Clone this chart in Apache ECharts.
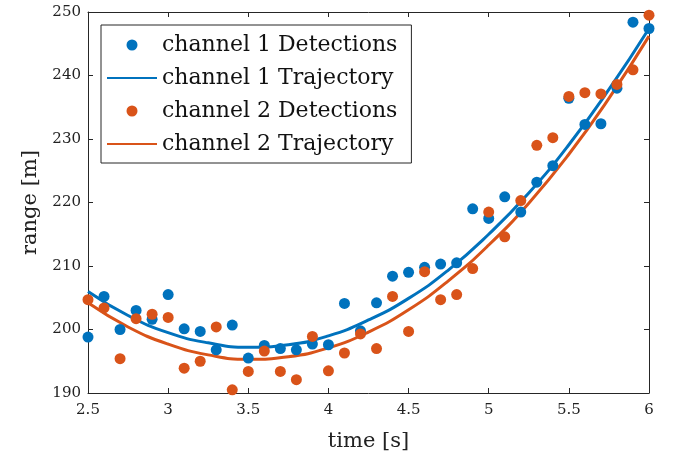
<!DOCTYPE html>
<html>
<head>
<meta charset="utf-8">
<script src="https://cdn.jsdelivr.net/npm/echarts@6/dist/echarts.min.js"></script>
<style>
    html, body { margin: 0; padding: 0; background: #fff; }
    #chart { width: 679px; height: 460px; }
</style>
</head>
<body>
<div id="chart"></div>
<script>
// detection times, every 0.1 s
const times = [2.5, 2.6, 2.7, 2.8, 2.9, 3.0, 3.1, 3.2, 3.3, 3.4, 3.5, 3.6, 3.7, 3.8, 3.9, 4.0, 4.1, 4.2,
    4.3, 4.4, 4.5, 4.6, 4.7, 4.8, 4.9, 5.0, 5.1, 5.2, 5.3, 5.4, 5.5, 5.6, 5.7, 5.8, 5.9, 6.0]
const ch1Detections = [198.8, 205.2, 200.0, 203.0, 201.6, 205.5, 200.1, 199.7, 196.8, 200.7, 195.5, 197.5,
    197.0, 196.8, 197.7, 197.6, 204.1, 199.8, 204.2, 208.4, 209.0, 209.8, 210.3, 210.5, 219.0, 217.5,
    220.9, 218.5, 223.2, 225.8, 236.4, 232.3, 232.4, 238.0, 248.4, 247.4]
const ch2Detections = [204.7, 203.4, 195.4, 201.7, 202.4, 201.9, 193.9, 195.0, 200.4, 190.5, 193.4, 196.6,
    193.4, 192.1, 198.9, 193.5, 196.3, 199.3, 197.0, 205.2, 199.7, 209.1, 204.7, 205.5, 209.6, 218.5,
    214.6, 220.3, 229.0, 230.2, 236.7, 237.3, 237.1, 238.6, 240.9, 249.5]

// trajectory read at every 0.25 s
const trajTimes = [2.5, 2.75, 3.0, 3.25, 3.5, 3.75, 4.0, 4.25, 4.5, 4.75, 5.0, 5.25, 5.5, 5.75, 6.0]
const ch1Trajectory = [206.0, 202.2, 199.5, 197.9, 197.2, 197.6, 199.0, 201.5, 204.9, 209.4, 215.0, 221.5, 229.1, 237.8, 247.4]
const ch2Trajectory = [204.2, 200.4, 197.7, 196.0, 195.3, 195.7, 197.1, 199.6, 203.1, 207.7, 213.3, 219.9, 227.6, 236.4, 246.2]

const blue = '#0072BD'
const orange = '#D95319'
const font = 'DejaVu Serif'

const pairs = (xs, ys) => xs.map((x, i) => [x, ys[i]])

const boxAxis = {
    axisLine: { show: true, lineStyle: { color: '#262626', width: 1 } },
    axisTick: { show: true, inside: true, length: 5, lineStyle: { color: '#262626' } },
    splitLine: { show: false },
}

let myChart = echarts.init(document.getElementById('chart'))
let option = {
    animation: false,
    backgroundColor: '#fff',
    grid: { left: 88, right: 30, top: 12, bottom: 67 },
    legend: {
        orient: 'vertical',
        left: 101,
        top: 25,
        padding: [9, 14, 8, 5],
        itemGap: 11,
        itemWidth: 50,
        itemHeight: 11,
        backgroundColor: '#fff',
        borderColor: '#262626',
        borderWidth: 1,
        borderRadius: 0,
        textStyle: { fontFamily: font, fontSize: 22, color: '#111' },
        data: [
            { name: 'channel 1 Detections', icon: 'circle' },
            { name: 'channel 1 Trajectory', itemStyle: { opacity: 0 } },
            { name: 'channel 2 Detections', icon: 'circle' },
            { name: 'channel 2 Trajectory', itemStyle: { opacity: 0 } },
        ],
    },
    xAxis: [
        {
            ...boxAxis,
            type: 'value',
            min: 2.5,
            max: 6,
            interval: 0.5,
            name: 'time [s]',
            nameLocation: 'middle',
            nameGap: 38,
            nameTextStyle: { fontFamily: font, fontSize: 21, color: '#222' },
            axisLabel: { fontFamily: font, fontSize: 15, color: '#222', margin: 10 },
        },
        {
            ...boxAxis,
            type: 'value',
            position: 'top',
            min: 2.5,
            max: 6,
            interval: 0.5,
            axisLabel: { show: false },
        },
    ],
    yAxis: [
        {
            ...boxAxis,
            type: 'value',
            min: 190,
            max: 250,
            interval: 10,
            name: 'range [m]',
            nameLocation: 'middle',
            nameGap: 43,
            nameTextStyle: { fontFamily: font, fontSize: 21, color: '#222' },
            axisLabel: { fontFamily: font, fontSize: 15, color: '#222', margin: 7 },
        },
        {
            ...boxAxis,
            type: 'value',
            position: 'right',
            min: 190,
            max: 250,
            interval: 10,
            axisLabel: { show: false },
        },
    ],
    series: [
        {
            name: 'channel 1 Detections',
            type: 'scatter',
            symbolSize: 11,
            itemStyle: { color: blue, opacity: 1 },
            data: pairs(times, ch1Detections),
            z: 3,
        },
        {
            name: 'channel 1 Trajectory',
            type: 'line',
            smooth: 0.5,
            showSymbol: false,
            symbol: 'none',
            lineStyle: { color: blue, width: 3 },
            itemStyle: { color: blue },
            data: pairs(trajTimes, ch1Trajectory),
            z: 2,
        },
        {
            name: 'channel 2 Detections',
            type: 'scatter',
            symbolSize: 11,
            itemStyle: { color: orange, opacity: 1 },
            data: pairs(times, ch2Detections),
            z: 3,
        },
        {
            name: 'channel 2 Trajectory',
            type: 'line',
            smooth: 0.5,
            showSymbol: false,
            symbol: 'none',
            lineStyle: { color: orange, width: 3 },
            itemStyle: { color: orange },
            data: pairs(trajTimes, ch2Trajectory),
            z: 2,
        },
    ],
}
myChart.setOption(option, true)
</script>
</body>
</html>
